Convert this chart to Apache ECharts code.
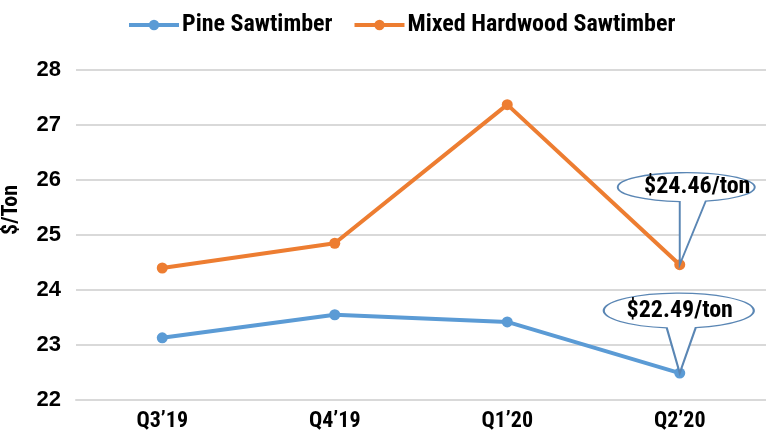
<!DOCTYPE html>
<html>
<head>
<meta charset="utf-8">
<script src="https://cdn.jsdelivr.net/npm/echarts@6/dist/echarts.min.js"></script>
<style>
  html, body { margin: 0; padding: 0; background: #fff; }
  #chart { width: 766px; height: 434px; }
</style>
</head>
<body>
<div id="chart"></div>
<script>
// Quarterly stumpage prices, $/ton
const quarters = ["Q3\u201919", "Q4\u201919", "Q1\u201920", "Q2\u201920"];
const pineSawtimber = [23.13, 23.55, 23.42, 22.49];
const hardwoodSawtimber = [24.40, 24.85, 27.37, 24.46];
const yTicks = { min: 22, max: 28, step: 1 };

const narrow = "'Roboto Condensed', 'Liberation Sans Narrow', sans-serif";
const blue = '#5b9bd5';
const orange = '#ed7d31';
const calloutStroke = '#5a86b4';

// Speech bubble: ellipse (rx, ry) with a tail from two points on its lower
// edge (x offsets from the centre) down to a tip. Built from cubic Béziers.
function bubble(rx, ry, baseL, baseR, tipX, tipY, textDx) {
  const P = t => [rx + rx * Math.cos(t), ry + ry * Math.sin(t)];
  const D = t => [-rx * Math.sin(t), ry * Math.cos(t)];
  const f = v => v.toFixed(2);
  const tL = Math.acos(baseL / rx);
  const tR = Math.acos(baseR / rx);
  const pL = P(tL), pR = P(tR);
  let d = `M${f(pL[0])} ${f(pL[1])} L${f(tipX)} ${f(tipY)} L${f(pR[0])} ${f(pR[1])}`;
  const total = 2 * Math.PI - (tL - tR);
  const steps = 4;
  const step = -total / steps;
  let a = tR;
  for (let i = 0; i < steps; i++) {
    const b = a + step;
    const k = 4 / 3 * Math.tan((b - a) / 4);
    const p0 = P(a), p3 = P(b), da = D(a), db = D(b);
    const c1 = [p0[0] + k * da[0], p0[1] + k * da[1]];
    const c2 = [p3[0] - k * db[0], p3[1] - k * db[1]];
    d += ` C${f(c1[0])} ${f(c1[1])} ${f(c2[0])} ${f(c2[1])} ${f(p3[0])} ${f(p3[1])}`;
    a = b;
  }
  d += ' Z';
  return {
    symbol: 'path://' + d,
    size: [2 * rx, tipY],
    offset: [rx - tipX, -tipY / 2],
    labelOffset: [textDx || 0, ry - tipY / 2]
  };
}

function callout(series, shape) {
  const last = series.length - 1;
  return {
    silent: true,
    animation: false,
    symbol: shape.symbol,
    symbolSize: shape.size,
    symbolKeepAspect: false,
    symbolOffset: shape.offset,
    itemStyle: { color: '#fff', borderColor: calloutStroke, borderWidth: 1.6 },
    label: {
      show: true,
      position: 'inside',
      offset: shape.labelOffset,
      color: '#000',
      fontFamily: narrow,
      fontWeight: 'bold',
      fontSize: 24,
      formatter: p => '$' + p.value.toFixed(2) + '/ton'
    },
    data: [{ coord: [quarters[last], series[last]], value: series[last] }]
  };
}

const chart = echarts.init(document.getElementById('chart'), null, { renderer: 'canvas' });
chart.setOption({
  animation: false,
  backgroundColor: '#fff',
  legend: {
    left: 127,
    top: 13,
    padding: 0,
    itemWidth: 50,
    itemHeight: 13,
    itemGap: 20,
    lineStyle: { width: 4 },
    textStyle: { fontFamily: narrow, fontWeight: 'bold', fontSize: 24, color: '#000', padding: [0, 0, 0, -2] },
    data: ['Pine Sawtimber', 'Mixed Hardwood Sawtimber']
  },
  grid: { left: 76, right: 0, top: 70, bottom: 34, containLabel: false, outerBoundsMode: 'none' },
  xAxis: {
    type: 'category',
    data: quarters,
    boundaryGap: true,
    axisLine: { show: true, lineStyle: { color: '#d9d9d9', width: 2 } },
    axisTick: { show: false },
    axisLabel: {
      margin: 10,
      color: '#000',
      fontFamily: narrow,
      fontWeight: 'bold',
      fontSize: 22
    }
  },
  yAxis: {
    type: 'value',
    min: yTicks.min,
    max: yTicks.max,
    interval: yTicks.step,
    name: '$/Ton',
    nameLocation: 'middle',
    nameGap: 54,
    nameRotate: 90,
    nameTextStyle: {
      fontFamily: narrow,
      fontWeight: 'bold',
      fontSize: 22,
      color: '#000',
      padding: [0, 0, 0, 50]
    },
    axisLine: { show: false },
    axisTick: { show: false },
    splitLine: { lineStyle: { color: '#d9d9d9', width: 2 } },
    axisLabel: {
      margin: 15,
      color: '#000',
      fontFamily: "'Liberation Sans', Arial, sans-serif",
      fontWeight: 'bold',
      fontSize: 22
    }
  },
  series: [
    {
      name: 'Pine Sawtimber',
      type: 'line',
      data: pineSawtimber,
      symbol: 'circle',
      symbolSize: 11,
      color: blue,
      lineStyle: { width: 4, color: blue },
      itemStyle: { color: blue },
      markPoint: callout(pineSawtimber, bubble(75, 17.5, -12, 17, 76, 80, 1))
    },
    {
      name: 'Mixed Hardwood Sawtimber',
      type: 'line',
      data: hardwoodSawtimber,
      symbol: 'circle',
      symbolSize: 11,
      color: orange,
      lineStyle: { width: 4, color: orange },
      itemStyle: { color: orange },
      markPoint: callout(hardwoodSawtimber, bubble(68.5, 14.5, -6.5, 19.5, 62, 92, 11))
    }
  ]
});
</script>
</body>
</html>
